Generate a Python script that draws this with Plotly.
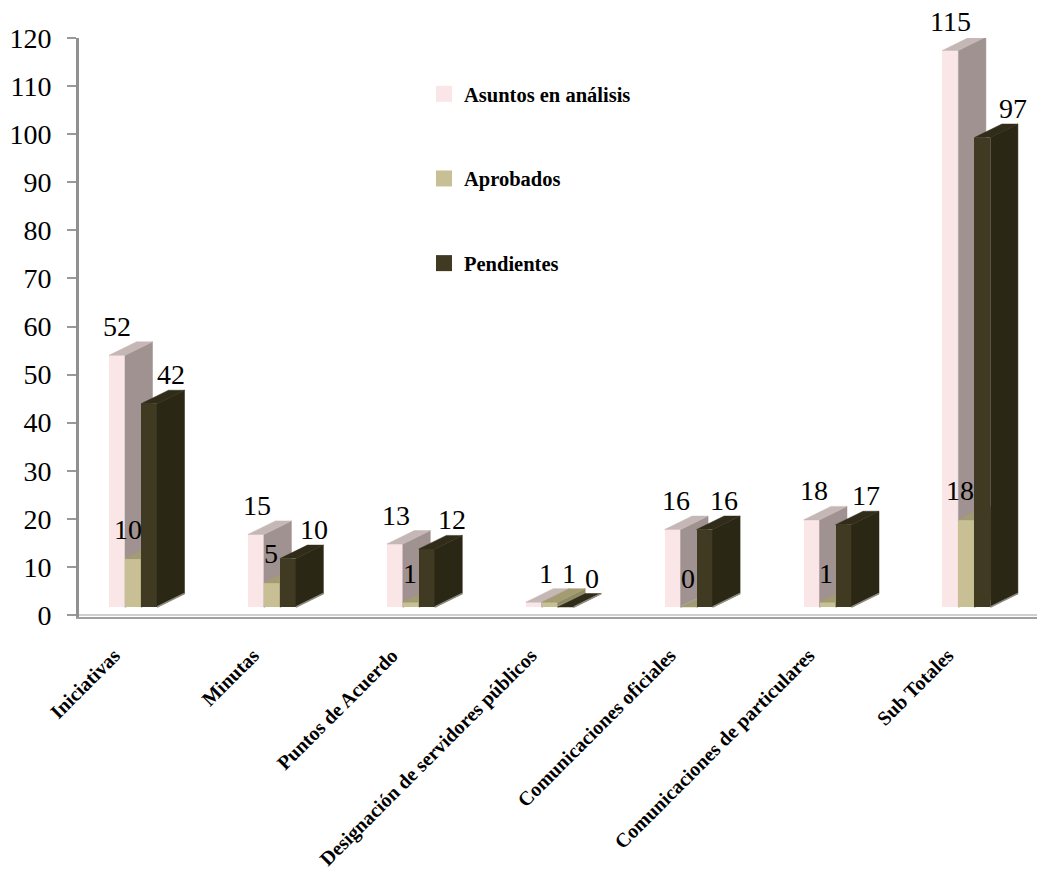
import plotly.graph_objects as go

categories = ["Iniciativas", "Minutas", "Puntos de Acuerdo",
              "Designación de servidores públicos", "Comunicaciones oficiales",
              "Comunicaciones de particulares", "Sub Totales"]
asuntos = [52, 15, 13, 1, 16, 18, 115]
aprobados = [10, 5, 1, 1, 0, 1, 18]
pendientes = [42, 10, 12, 0, 16, 17, 97]
y_ticks = list(range(0, 121, 10))

# Horizontal nudges (px) that keep the value labels clear of neighbouring bars
asuntos_nudge = [0, 1, 1, 12, 3, 2, 0]
aprobados_nudge = [-5, -1, -1, 19, -1, -2, -6]
pendientes_nudge = [22, 26, 25, 26, 19, 22, 31]
LABEL_LIFT = 29

# Canvas and plot frame
WIDTH, HEIGHT = 1037, 872
LEFT, TOP, BOTTOM = 79, 38, 617
CAT_PX = 138.9            # width of one category
FIRST_PX = 133            # centre of the first bar cluster
AXIS_ZERO_PX = 615
AXIS_UNIT_PX = 577 / 120
BAR_ZERO_PX = 607         # bars stand on a floor set back from the axis
BAR_UNIT_PX = 4.84
BAR_W = 16 / CAT_PX
DEPTH_X = 27.5 / CAT_PX
DEPTH_Y = 13.5 / BAR_UNIT_PX

x_range = [(LEFT - FIRST_PX) / CAT_PX, (WIDTH - FIRST_PX) / CAT_PX]
axis_range = [(AXIS_ZERO_PX - BOTTOM) / AXIS_UNIT_PX, (AXIS_ZERO_PX - TOP) / AXIS_UNIT_PX]
bar_range = [(BAR_ZERO_PX - BOTTOM) / BAR_UNIT_PX, (BAR_ZERO_PX - TOP) / BAR_UNIT_PX]

series = [
    dict(name="Asuntos en análisis", values=asuntos, nudge=asuntos_nudge, offset=-1.5,
         front="#fae6e7", side="#9f9291", top="#c6b7b7", floor="#b5aaaa"),
    dict(name="Aprobados", values=aprobados, nudge=aprobados_nudge, offset=-0.5,
         front="#c8bf95", side="#8f8a63", top="#a39c73", floor="#a8a488"),
    dict(name="Pendientes", values=pendientes, nudge=pendientes_nudge, offset=0.5,
         front="#413a22", side="#2b2715", top="#302c19", floor="#8d8b80"),
]

SERIF = "Liberation Serif"
fig = go.Figure()
annotations = []


def faces(s):
    """Outline the side, top and floor-edge faces of each bar in a series."""
    side_x, side_y, top_x, top_y, edge_x, edge_y = [], [], [], [], [], []
    for i, v in enumerate(s["values"]):
        xl = i + s["offset"] * BAR_W
        xr = xl + BAR_W
        side_x += [xr, xr + DEPTH_X, xr + DEPTH_X, xr, xr, None]
        side_y += [0, DEPTH_Y, v + DEPTH_Y, v, 0, None]
        top_x += [xl, xr, xr + DEPTH_X, xl + DEPTH_X, xl, None]
        top_y += [v, v, v + DEPTH_Y, v + DEPTH_Y, v, None]
        edge_x += [xr, xr + DEPTH_X, None]
        edge_y += [0, DEPTH_Y, None]
    return side_x, side_y, top_x, top_y, edge_x, edge_y


# Each series gets its own overlaid axis pair so that its faces stack above the previous one
for n, s in enumerate(series, start=2):
    xa, ya = f"x{n}", f"y{n}"
    xs = list(range(len(categories)))
    fig.add_trace(go.Bar(x=xs, y=s["values"], width=BAR_W, offset=s["offset"] * BAR_W,
                         marker=dict(color=s["front"], line_width=0), name=s["name"],
                         showlegend=False, xaxis=xa, yaxis=ya, hoverinfo="skip", cliponaxis=False))
    side_x, side_y, top_x, top_y, edge_x, edge_y = faces(s)
    for px, py, colour in ((side_x, side_y, s["side"]), (top_x, top_y, s["top"])):
        fig.add_trace(go.Scatter(x=px, y=py, mode="lines", fill="toself", fillcolor=colour,
                                 line=dict(width=0.5, color=colour), showlegend=False,
                                 xaxis=xa, yaxis=ya, hoverinfo="skip", cliponaxis=False))
    fig.add_trace(go.Scatter(x=edge_x, y=edge_y, mode="lines", line=dict(width=1.5, color=s["floor"]),
                             showlegend=False, xaxis=xa, yaxis=ya, hoverinfo="skip", cliponaxis=False))
    for i, v in enumerate(s["values"]):
        annotations.append(dict(text=str(v), x=i + (s["offset"] + 0.5) * BAR_W, y=v,
                                xref=xa, yref=ya, showarrow=False,
                                xshift=s["nudge"][i], yshift=LABEL_LIFT,
                                font=dict(family=SERIF, size=28, color="#000000")))

# Legend entries, one group each so the gap between them can be opened up
for s in series:
    fig.add_trace(go.Scatter(x=[None], y=[None], mode="markers", name=s["name"],
                             legendgroup=s["name"],
                             marker=dict(symbol="square", size=16, color=s["front"])))

hidden_x = dict(overlaying="x", range=x_range, visible=False, anchor="free", position=0)
layout_axes = {}
for n in (2, 3, 4):
    layout_axes[f"xaxis{n}"] = dict(hidden_x)
    layout_axes[f"yaxis{n}"] = dict(overlaying="y", range=bar_range, visible=False)

fig.update_layout(
    width=WIDTH, height=HEIGHT, margin=dict(l=LEFT, r=0, t=TOP, b=HEIGHT - BOTTOM, autoexpand=False),
    paper_bgcolor="#ffffff", plot_bgcolor="#ffffff", annotations=annotations,
    xaxis=dict(range=x_range, tickmode="array",
               tickvals=[i - 0.135 for i in range(len(categories))], ticktext=categories,
               tickangle=-45, ticks="", showgrid=False, zeroline=False, showline=True,
               linecolor="#a0a0a0", linewidth=2, ticklabelstandoff=17,
               tickfont=dict(family=SERIF, size=20, color="#000000", weight="bold")),
    yaxis=dict(range=axis_range, tickmode="array", tickvals=y_ticks, ticks="outside", ticklen=9,
               tickwidth=2, tickcolor="#999999", showgrid=False, showline=True, linecolor="#909090",
               linewidth=3, zeroline=True, zerolinecolor="#cfcfcf", zerolinewidth=2,
               ticklabelstandoff=10, tickfont=dict(family=SERIF, size=28, color="#000000")),
    legend=dict(x=(424 - LEFT) / (WIDTH - LEFT), y=1 - (74 - TOP) / (BOTTOM - TOP),
                xanchor="left", yanchor="top", tracegroupgap=55, bgcolor="rgba(0,0,0,0)",
                font=dict(family=SERIF, size=20.5, color="#000000", weight="bold")),
    showlegend=True, bargap=0, **layout_axes,
)

fig.write_html("out.html")
